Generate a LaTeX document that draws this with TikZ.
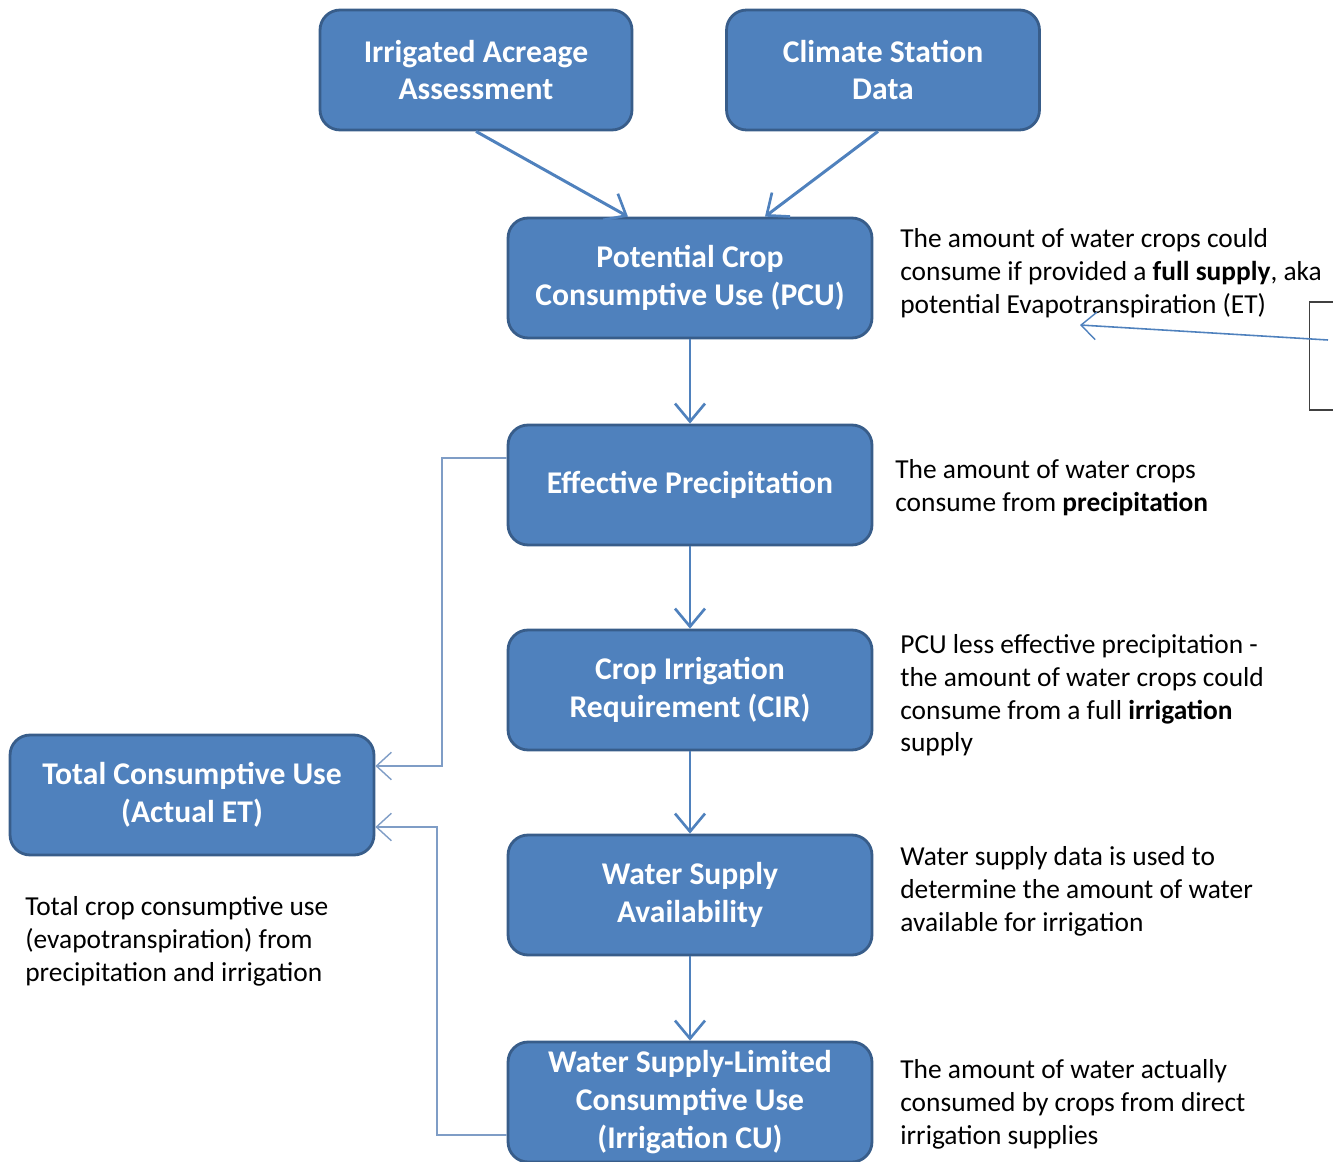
\documentclass[tikz,border=0pt]{standalone}
\usepackage{fontspec}
\setmainfont{Carlito}
\usetikzlibrary{positioning,arrows.meta,calc}
\definecolor{boxfill}{HTML}{4F81BD}
\definecolor{boxline}{HTML}{385D8A}
\definecolor{sideline}{HTML}{7F9DC6}
\definecolor{notegray}{HTML}{404040}
\tikzset{
  stagebox/.style={draw=boxline, line width=1.6pt, fill=boxfill, rounded corners=0.4cm,
    text=white, font=\fontsize{18}{21.5}\selectfont\bfseries, align=center,
    minimum width=7.28cm, minimum height=2.4cm, inner sep=2pt},
  notetext/.style={anchor=north west, align=left, inner sep=0pt,
    font=\fontsize{15.6}{18.7}\selectfont},
  flow/.style={draw=boxfill, line width=1.7pt, -{Straight Barb[length=3.6mm,width=6mm,line width=1.5pt]}},
  sideflow/.style={draw=sideline, line width=0.9pt, -{Straight Barb[length=3mm,width=5.5mm,line width=0.8pt]}}
}
\begin{document}
\begin{tikzpicture}[x=0.02cm, y=-0.02cm]
    \useasboundingbox (0,0) rectangle (1333,1162);
    % Boxes
    \node[stagebox, minimum width=6.24cm] (acreage) at (476,70) {Irrigated Acreage\\Assessment};
    \node[stagebox, minimum width=6.26cm] (climate) at (883,70) {Climate Station\\Data};
    \node[stagebox] (pcu) at (690,278) {Potential Crop\\Consumptive Use (PCU)};
    \node[stagebox] (effprecip) at (690,485) {Effective Precipitation};
    \node[stagebox] (cir) at (690,690) {Crop Irrigation\\Requirement (CIR)};
    \node[stagebox] (supply) at (690,895) {Water Supply\\Availability};
    \node[stagebox] (limited) at (690,1102) {Water Supply-Limited\\Consumptive Use\\(Irrigation CU)};
    \node[stagebox] (total) at (192,795) {Total Consumptive Use\\(Actual ET)};

    % Notes
    \node[notetext] (pcu-note) at (900,228) {The amount of water crops could\\consume if provided a \textbf{full supply}, aka\\potential Evapotranspiration (ET)};
    \node[notetext] (ep-note) at (895,459) {The amount of water crops\\consume from \textbf{precipitation}};
    \node[notetext] (cir-note) at (900,634) {PCU less effective precipitation -\\the amount of water crops could\\consume from a full \textbf{irrigation}\\supply};
    \node[notetext] (supply-note) at (900,846) {Water supply data is used to\\determine the amount of water\\available for irrigation};
    \node[notetext] (limited-note) at (900,1059) {The amount of water actually\\consumed by crops from direct\\irrigation supplies};
    \node[notetext] (total-note) at (25,896) {Total crop consumptive use\\(evapotranspiration) from\\precipitation and irrigation};

    % Cut-off box at the right edge
    \node[draw=notegray, line width=1pt, minimum width=1.3cm, minimum height=2.16cm] (edge-box) at (1342,356) {};
    \coordinate (edge-start) at (1328,340);
    \coordinate (et-end) at (1080,325);

    % Flow arrows
    \draw[flow] (acreage.south) -- ([xshift=-1.24cm]pcu.north);
    \draw[flow] ([xshift=-0.1cm]climate.south) -- ([xshift=1.5cm]pcu.north);
    \draw[flow] (pcu) -- (effprecip);
    \draw[flow] (effprecip) -- (cir);
    \draw[flow] (cir) -- (supply);
    \draw[flow] (supply) -- (limited);

    % Side lines to total use
    \coordinate (ep-bend) at (442,458);
    \coordinate (cu-bend) at (437,1135);
    \draw[sideflow] ([yshift=0.54cm]effprecip.west) -- (ep-bend) |- ([yshift=0.58cm]total.east);
    \draw[sideflow] ([yshift=-0.66cm]limited.west) -- (cu-bend) |- ([yshift=-0.64cm]total.east);
    \draw[sideflow, draw=boxfill] (edge-start) -- (et-end);
\end{tikzpicture}
\end{document}
